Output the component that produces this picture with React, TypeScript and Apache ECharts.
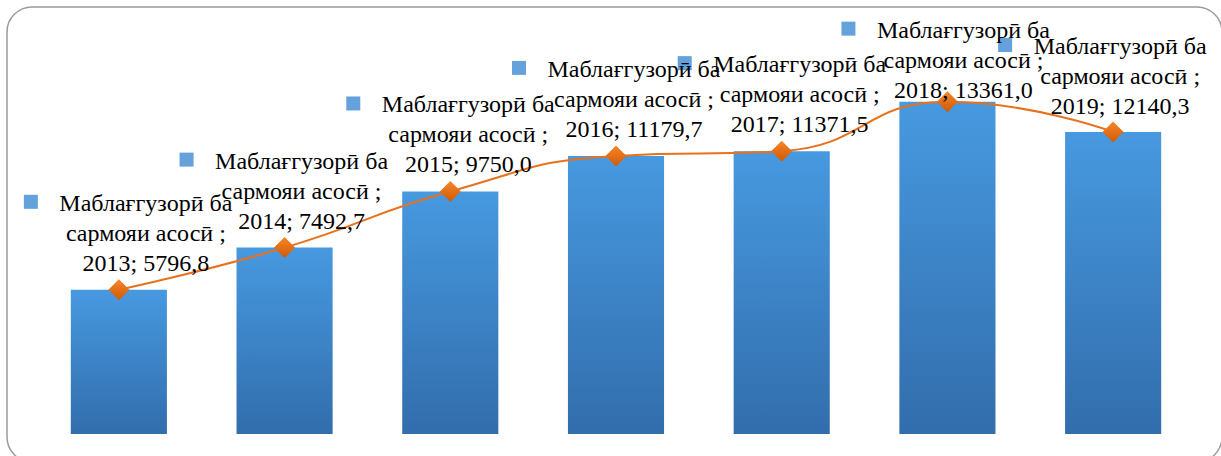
import React, { useEffect, useRef } from "react";
import * as echarts from "echarts";

const years = ["2013", "2014", "2015", "2016", "2017", "2018", "2019"];
const values = [5796.8, 7492.7, 9750.0, 11179.7, 11371.5, 13361.0, 12140.3];
const seriesName = "Маблағгузорӣ ба сармояи асосӣ";
const labelLine1 = "Маблағгузорӣ ба";
const labelLine2 = "сармояи асосӣ ;";
const yMax = 16000;

// label placement tweaks (layout only)
const labelShiftX = [27, 17, 18, 18, 18, 16, 7];
const labelShiftY = [0, 0, 0, 0, 0, 15, 1];

const fmt = (v: number) => v.toFixed(1).replace(".", ",");

export default function App() {
  const ref = useRef<HTMLDivElement>(null);
  useEffect(() => {
    if (!ref.current) return;
    const chart = echarts.init(ref.current, undefined, { renderer: "svg" });
    const font = "Liberation Serif";
    const blueGrad = new echarts.graphic.LinearGradient(0, 0, 0, 1, [
      { offset: 0, color: "#4799E0" },
      { offset: 1, color: "#326DAC" },
    ]);
    const frame = {
      type: "rect",
      shape: { x: 7, y: 7, width: 1215, height: 455, r: 25 },
      style: { fill: "none", stroke: "#9b9b9b", lineWidth: 1.5 },
      silent: true,
      z: -1,
    };
    chart.setOption({
      animation: false,
      graphic: [frame],
      grid: { left: 36, right: 25, top: 36, bottom: 22, containLabel: false },
      xAxis: { type: "category", data: years, show: false },
      yAxis: { type: "value", min: 0, max: yMax, show: false, splitLine: { show: false } },
      series: [
        {
          type: "bar",
          name: seriesName,
          data: values,
          barWidth: "58%",
          itemStyle: { color: blueGrad },
        },
        {
          type: "line",
          name: seriesName,
          smooth: 0.5,
          symbol: "diamond",
          symbolSize: 21,
          lineStyle: { color: "#E8711C", width: 2 },
          itemStyle: {
            color: new echarts.graphic.LinearGradient(0, 0, 0, 1, [
              { offset: 0, color: "#F7862A" },
              { offset: 1, color: "#CF5A05" },
            ]),
          },
          data: values,
          z: 3,
        },
        {
          type: "scatter",
          name: seriesName,
          symbol: "rect",
          symbolSize: 14,
          itemStyle: { color: "#3F89D2" },
          data: values.map((v, i) => ({
            value: [i, v],
            symbolOffset: [labelShiftX[i] - 115, labelShiftY[i] - 88],
          })),
          z: 4,
          silent: true,
        },
      ],
    });

    const texts: any[] = [];
    values.forEach((v, i) => {
      const pt = chart.convertToPixel({ seriesIndex: 1 }, [i, v]) as number[];
      if (!pt) return;
      const lines = [labelLine1, labelLine2, `${years[i]}; ${fmt(v)}`];
      lines.forEach((t, k) => {
        texts.push({
          type: "text",
          x: pt[0] + labelShiftX[i],
          y: pt[1] + labelShiftY[i] - 87 + 30 * k,
          z: 10,
          silent: true,
          style: {
            text: t,
            fontFamily: font,
            fontSize: 24,
            fill: "#000",
            align: "center",
            verticalAlign: "middle",
          },
        });
      });
    });
    chart.setOption({ graphic: [frame, ...texts] });

    return () => chart.dispose();
  }, []);
  return (
    <div
      ref={ref}
      style={{ position: "fixed", left: 0, top: 0, width: 1221, height: 456, background: "#fff" }}
    />
  );
}
